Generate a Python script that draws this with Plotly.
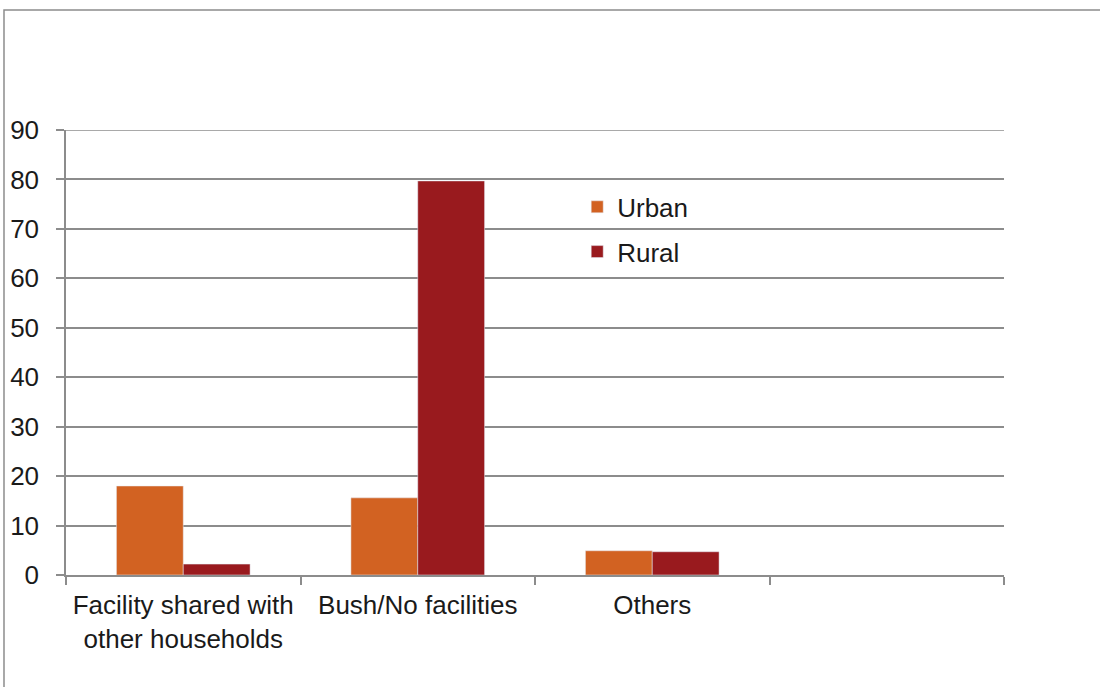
import plotly.graph_objects as go

# Sanitation facility type by residence (%)
categories = ["Facility shared with<br>other households", "Bush/No facilities", "Others", " "]
urban = [18.0, 15.6, 4.9, None]
rural = [2.2, 79.7, 4.7, None]

ORANGE = "#D26222"
DARK_RED = "#991A1E"
GRID = "#8C8C8C"
FONT = "Liberation Sans, Arial, sans-serif"

fig = go.Figure()
fig.add_trace(go.Bar(name="Urban", x=categories, y=urban, marker_color=ORANGE,
                     legendgroup="u"))
fig.add_trace(go.Bar(name="Rural", x=categories, y=rural, marker_color=DARK_RED,
                     legendgroup="r"))

fig.update_layout(
    width=1100, height=687,
    margin=dict(l=66, r=96, t=130, b=112),
    paper_bgcolor="white", plot_bgcolor="white",
    font=dict(family=FONT, size=26, color="#1a1a1a"),
    barmode="group", bargap=0.43, bargroupgap=0,
    showlegend=True,
    legend=dict(x=0.545, y=0.88, xanchor="left", yanchor="top",
                bgcolor="rgba(0,0,0,0)", tracegroupgap=8,
                font=dict(size=26), itemwidth=30),
    xaxis=dict(
        type="category", tickson="boundaries", ticks="outside", ticklen=8,
        tickcolor=GRID, tickwidth=1.5, showline=True, linecolor=GRID, linewidth=1.5,
        showgrid=False, range=[-0.5, 3.5], ticklabelstandoff=6, automargin=False,
        tickangle=0,
    ),
    yaxis=dict(
        range=[0, 90], dtick=10, ticks="outside", ticklen=8, tickcolor=GRID,
        tickwidth=1.5, showline=True, linecolor=GRID, linewidth=1.5,
        showgrid=True, gridcolor=GRID, gridwidth=1.5, zeroline=False,
        ticklabelstandoff=12, automargin=False,
    ),
)

# Top gridline at the axis maximum
fig.add_shape(type="line", xref="paper", yref="y", x0=0, x1=1, y0=90, y1=90,
              line=dict(color=GRID, width=1.5), layer="below")

# Outer chart frame
fig.add_shape(type="rect", xref="paper", yref="paper",
              x0=-0.0661, x1=1.11, y0=-0.26, y1=1.2697,
              line=dict(color=GRID, width=1.5), layer="below")

fig.write_html("out.html")
